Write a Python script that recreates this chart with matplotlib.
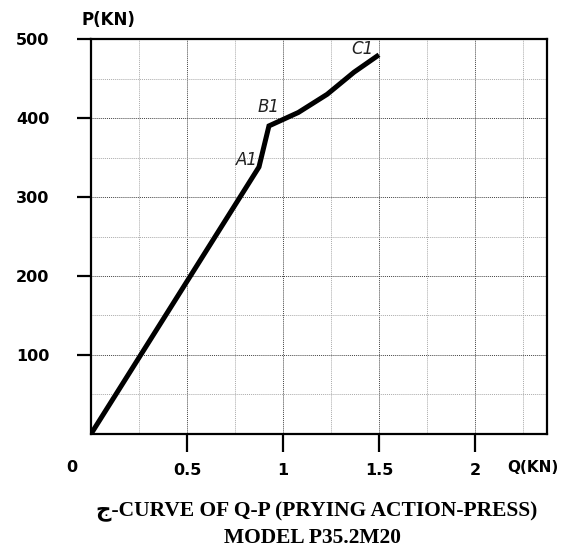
import matplotlib
matplotlib.use("Agg")
import matplotlib.pyplot as plt

# Q-P curve
q_values = [0, 0.875, 0.927, 1.08, 1.23, 1.37, 1.5]
p_values = [0, 338, 390, 407, 430, 458, 480]

point_names = ["A1", "B1", "C1"]
point_q = [0.87, 0.98, 1.47]
point_p = [347, 414, 487]

x_ticks = [0.5, 1, 1.5, 2]
x_tick_labels = ["0.5", "1", "1.5", "2"]
y_ticks = [100, 200, 300, 400, 500]


def main():
    fig = plt.figure(figsize=(5.70, 5.52), dpi=100)
    ax = fig.add_axes([0.1596, 0.2138, 0.8, 0.7155])

    ax.plot(q_values, p_values, color="black", lw=3.6, solid_joinstyle="miter",
            solid_capstyle="butt", zorder=3)

    ax.set_xlim(0, 2.375)
    ax.set_ylim(0, 500)

    # grid: dotted, every 0.25 and 50
    for gx in [0.25 * i for i in range(1, 10)]:
        major = abs(gx * 2 - round(gx * 2)) < 1e-9
        ax.axvline(gx, color="#444444" if major else "#aaaaaa", lw=0.7,
                   ls=(0, (1, 1)), zorder=1)
    for gy in range(50, 500, 50):
        major = gy % 100 == 0
        ax.axhline(gy, color="#444444" if major else "#aaaaaa", lw=0.7,
                   ls=(0, (1, 1)), zorder=1)

    for s in ax.spines.values():
        s.set_linewidth(1.6)

    ax.set_xticks(x_ticks)
    ax.set_xticklabels(x_tick_labels)
    ax.set_yticks(y_ticks)
    ax.tick_params(axis="x", direction="out", length=13, width=1.6, pad=8,
                   labelsize=11.5)
    ax.tick_params(axis="y", direction="out", length=10, width=1.6, pad=20,
                   labelsize=11.5)
    for lab in ax.get_xticklabels() + ax.get_yticklabels():
        lab.set_fontweight("bold")

    # point names
    for name, q, p in zip(point_names, point_q, point_p):
        ax.text(q, p, name, style="italic", fontsize=12, color="#222222",
                ha="right", va="center")

    # axis names
    fig.text(108 / 570, 1 - 20 / 552, "P(KN)", fontsize=12, fontweight="bold",
             ha="center", va="center")
    fig.text(533 / 570, 1 - 468 / 552, "Q(KN)", fontsize=11, fontweight="bold",
             ha="center", va="center")
    fig.text(72 / 570, 1 - 468 / 552, "0", fontsize=11.5, fontweight="bold",
             ha="center", va="center")

    # caption
    fig.text(317 / 570, 1 - 512 / 552, "ج-CURVE OF Q-P (PRYING ACTION-PRESS)",
             family=["Liberation Serif", "DejaVu Sans"], fontweight="bold",
             fontsize=15.5, ha="center", va="center")
    fig.text(313 / 570, 1 - 538 / 552, "MODEL P35.2M20",
             family=["Liberation Serif", "DejaVu Sans"], fontweight="bold",
             fontsize=15.5, ha="center", va="center")

    fig.savefig("out.png", dpi=100)


if __name__ == "__main__":
    main()
